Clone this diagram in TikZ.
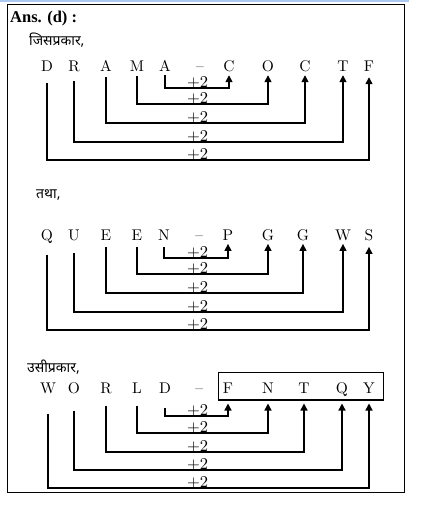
\documentclass[tikz,border=0pt]{standalone}
\usepackage{fontspec}
\usetikzlibrary{arrows.meta}
\newfontfamily\devfont[Script=Devanagari]{Noto Sans}
\newfontfamily\timesfont{Liberation Serif}
\newfontfamily\lmten[Ligatures=TeX]{lmroman10-regular.otf}
\tikzset{
  ltr/.style={inner sep=0pt, anchor=base, text depth=0pt, font=\lmten\fontsize{15.5}{19}\selectfont},
  conn/.style={line width=1.4pt},
  arr/.style={conn, -{Triangle[width=7pt,length=7pt]}},
  lbl/.style={inner sep=0pt, anchor=base, font=\lmten\fontsize{16.5}{19}\selectfont},
  hin/.style={inner sep=0pt, anchor=west, font=\devfont\fontsize{14}{17}\selectfont},
  frame/.style={line width=1pt}
}
\begin{document}
\begin{tikzpicture}[x=1pt,y=-1pt]
\useasboundingbox (0,0) rectangle (434,515);
\draw[color={rgb,255:red,170;green,200;blue,240}, line width=1.5pt] (0,1) -- (409,1);
\draw[frame] (7.5,4.5) rectangle (404.5,492.5);
\node[inner sep=0pt, anchor=base west, font=\timesfont\bfseries\fontsize{16.5}{19}\selectfont] (ans) at (10,22.5) {Ans. (d) :};
% ---------- row 1 ----------
\node[hin] (h1) at (29,40) {जिसप्रकार,};
\foreach \n/\x/\t in {a/47/D, b/74/R, c/106/A, d/137/M, e/165/A, f/200/\textendash, g/229/C, h/268/O, i/305/C, j/343/T, k/369/F}
  \node[ltr] (r1\n) at (\x,71) {\t};
\coordinate (L11) at (0,88);
\coordinate (L12) at (0,104);
\coordinate (L13) at (0,123);
\coordinate (L14) at (0,142);
\coordinate (L15) at (0,160);
\draw[arr] ([yshift=-4pt]r1e.south) -- (r1e.south |- L11) -- (r1g.south |- L11) -- ([yshift=-4pt]r1g.south);
\draw[arr] ([yshift=-5pt]r1d.south) -- (r1d.south |- L12) -- (r1h.south |- L12) -- ([yshift=-4pt]r1h.south);
\draw[arr] ([yshift=-6pt]r1c.south) -- (r1c.south |- L13) -- (r1i.south |- L13) -- ([yshift=-4pt]r1i.south);
\draw[arr] ([yshift=-10pt]r1b.south) -- (r1b.south |- L14) -- (r1j.south |- L14) -- ([yshift=-4pt]r1j.south);
\draw[arr] ([yshift=-12pt]r1a.south) -- (r1a.south |- L15) -- (r1k.south |- L15) -- ([yshift=-6pt]r1k.south);
\node[lbl] (p11) at (197.7,87) {+2};
\node[lbl] (p12) at (197.7,103) {+2};
\node[lbl] (p13) at (197.7,122) {+2};
\node[lbl] (p14) at (197.7,141) {+2};
\node[lbl] (p15) at (197.7,159) {+2};
% ---------- row 2 ----------
\node[hin] (h2) at (36,195) {तथा,};
\foreach \n/\x/\t in {a/47/Q, b/74/U, c/106/E, d/137/E, e/164/N, f/199.3/\textendash, g/228/P, h/268/G, i/303/G, j/343/W, k/369/S}
  \node[ltr] (r2\n) at (\x,240.7) {\t};
\coordinate (L21) at (0,258);
\coordinate (L22) at (0,274);
\coordinate (L23) at (0,293);
\coordinate (L24) at (0,312);
\coordinate (L25) at (0,330);
\draw[arr] ([yshift=-6pt]r2e.south) -- (r2e.south |- L21) -- (r2g.south |- L21) -- ([yshift=-3pt]r2g.south);
\draw[arr] ([yshift=-6pt]r2d.south) -- (r2d.south |- L22) -- (r2h.south |- L22) -- ([yshift=-3pt]r2h.south);
\draw[arr] ([yshift=-6pt]r2c.south) -- (r2c.south |- L23) -- (r2i.south |- L23) -- ([yshift=-3pt]r2i.south);
\draw[arr] ([yshift=-12pt]r2b.south) -- (r2b.south |- L24) -- (r2j.south |- L24) -- ([yshift=-3pt]r2j.south);
\draw[arr] ([yshift=-14pt]r2a.south) -- (r2a.south |- L25) -- (r2k.south |- L25) -- ([yshift=-6pt]r2k.south);
\node[lbl] (p21) at (197.7,257) {+2};
\node[lbl] (p22) at (197.7,273) {+2};
\node[lbl] (p23) at (197.7,292) {+2};
\node[lbl] (p24) at (197.7,311) {+2};
\node[lbl] (p25) at (197.7,329) {+2};
% ---------- row 3 ----------
\node[hin] (h3) at (27,367.5) {उसीप्रकार,};
\foreach \n/\x/\t in {a/48/W, b/74/O, c/106/R, d/137/L, e/165/D, f/199.3/\textendash, g/228/F, h/268/N, i/304/T, j/342/Q, k/369/Y}
  \node[ltr] (r3\n) at (\x,393.3) {\t};
\draw[line width=1.2pt] (218.3,372.3) rectangle (383.3,400);
\coordinate (L31) at (0,416);
\coordinate (L32) at (0,433);
\coordinate (L33) at (0,452);
\coordinate (L34) at (0,470);
\coordinate (L35) at (0,488);
\draw[arr] ([yshift=-14pt]r3e.south) -- (r3e.south |- L31) -- (r3g.south |- L31) -- ([yshift=-10pt]r3g.south);
\draw[arr] ([yshift=-12pt]r3d.south) -- (r3d.south |- L32) -- (r3h.south |- L32) -- ([yshift=-10pt]r3h.south);
\draw[arr] ([yshift=-12pt]r3c.south) -- (r3c.south |- L33) -- (r3i.south |- L33) -- ([yshift=-10pt]r3i.south);
\draw[arr] ([yshift=-17pt]r3b.south) -- (r3b.south |- L34) -- (r3j.south |- L34) -- ([yshift=-10pt]r3j.south);
\draw[arr] ([yshift=-20pt]r3a.south) -- (r3a.south |- L35) -- (r3k.south |- L35) -- ([yshift=-10pt]r3k.south);
\node[lbl] (p31) at (197.7,415) {+2};
\node[lbl] (p32) at (197.7,432) {+2};
\node[lbl] (p33) at (197.7,451) {+2};
\node[lbl] (p34) at (197.7,469) {+2};
\node[lbl] (p35) at (197.7,487) {+2};
\end{tikzpicture}
\end{document}
